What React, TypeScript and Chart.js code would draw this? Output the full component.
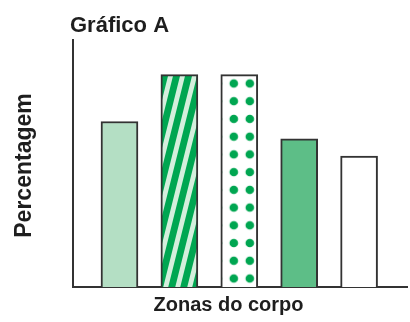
import React, { useEffect, useRef } from 'react';
import { Chart, registerables } from 'chart.js';

Chart.register(...registerables);

// ---- data ----
const zones = [1, 2, 3, 4, 5];
const percentages = [67, 86, 86, 60, 53];
const chartTitle = 'Gráfico A';
const xAxisLabel = 'Zonas do corpo';
const yAxisLabel = 'Percentagem';

// ---- styles ----
const DARK_GREEN = '#00a651';
const LIGHT_STRIPE = '#d4efdd';
const PALE_GREEN = '#b4dfc4';
const MID_GREEN = '#5dbe87';
const EDGE = '#333333';
const TEXT = '#1e1e1e';
const FONT = '"Liberation Sans", Arial, sans-serif';

function makeStripePattern(ctx: CanvasRenderingContext2D): CanvasPattern {
  const c = document.createElement('canvas');
  c.width = 12;
  c.height = 48;
  const g = c.getContext('2d')!;
  g.fillStyle = LIGHT_STRIPE;
  g.fillRect(0, 0, 12, 48);
  g.fillStyle = DARK_GREEN;
  for (let k = -2; k <= 2; k++) {
    g.beginPath();
    g.moveTo(k * 12, 48);
    g.lineTo(k * 12 + 7, 48);
    g.lineTo(k * 12 + 19, 0);
    g.lineTo(k * 12 + 12, 0);
    g.closePath();
    g.fill();
  }
  return ctx.createPattern(c, 'repeat')!;
}

function makeDotPattern(ctx: CanvasRenderingContext2D): CanvasPattern {
  const c = document.createElement('canvas');
  c.width = 16;
  c.height = 18;
  const g = c.getContext('2d')!;
  g.fillStyle = '#ffffff';
  g.fillRect(0, 0, 16, 18);
  g.fillStyle = DARK_GREEN;
  g.beginPath();
  g.arc(8, 9, 4.3, 0, Math.PI * 2);
  g.fill();
  return ctx.createPattern(c, 'repeat')!;
}

export default function App() {
  const ref = useRef<HTMLCanvasElement | null>(null);

  useEffect(() => {
    const canvas = ref.current!;
    const ctx = canvas.getContext('2d')!;
    const stripes = makeStripePattern(ctx);
    const dots = makeDotPattern(ctx);

    const alignPatterns = {
      id: 'alignPatterns',
      beforeDatasetsDraw(chart: any) {
        const meta = chart.getDatasetMeta(0);
        const el = meta.data[2];
        if (!el) return;
        const p = el.getProps(['x', 'y', 'width'], true);
        const left = p.x - p.width / 2;
        try {
          dots.setTransform(new DOMMatrix().translate(left + 5, p.y).scale(1, 0.985));
        } catch (e) {}
      },
    };

    const labels = {
      id: 'labels',
      afterDraw(chart: any) {
        const { ctx: c, chartArea: a } = chart;
        c.save();
        c.fillStyle = TEXT;
        c.textBaseline = 'alphabetic';
        c.font = `bold 22px ${FONT}`;
        c.textAlign = 'left';
        c.fillText(chartTitle, a.left - 3, a.top - 8.5);

        c.font = `bold 20px ${FONT}`;
        c.textAlign = 'center';
        c.fillText(xAxisLabel, a.left + 155.5, a.bottom + 24);

        c.translate(a.left - 42.5, (a.top + a.bottom) / 2 + 2);
        c.rotate(-Math.PI / 2);
        c.font = `bold 23px ${FONT}`;
        c.textAlign = 'center';
        c.fillText(yAxisLabel, 0, 0);
        c.restore();
      },
    };

    const chart = new Chart(canvas, {
      type: 'bar',
      data: {
        datasets: [
          {
            data: zones.map((z, i) => ({ x: z, y: percentages[i] })),
            backgroundColor: [PALE_GREEN, stripes, dots, MID_GREEN, '#ffffff'],
            borderColor: EDGE,
            borderWidth: 2,
            barThickness: 37,
          },
        ],
      },
      options: {
        animation: false,
        responsive: false,
        devicePixelRatio: 1,
        layout: { padding: { left: 73, top: 40, right: 3, bottom: 35 } },
        plugins: {
          legend: { display: false },
          tooltip: { enabled: false },
          title: { display: false },
        },
        scales: {
          x: {
            type: 'linear',
            min: 0.224,
            max: 5.8,
            offset: false,
            ticks: { display: false },
            grid: { display: false, drawTicks: false, tickLength: 0 },
            border: { display: true, color: EDGE, width: 2 },
          },
          y: {
            min: 0,
            max: 100,
            ticks: { display: false },
            grid: { display: false, drawTicks: false, tickLength: 0 },
            border: { display: true, color: EDGE, width: 2 },
          },
        },
      },
      plugins: [alignPatterns, labels],
    });

    return () => chart.destroy();
  }, []);

  return (
    <div style={{ position: 'absolute', left: 0, top: 0, width: 410, height: 322, background: '#fff' }}>
      <canvas ref={ref} width={410} height={322} style={{ display: 'block', width: 410, height: 322 }} />
    </div>
  );
}
